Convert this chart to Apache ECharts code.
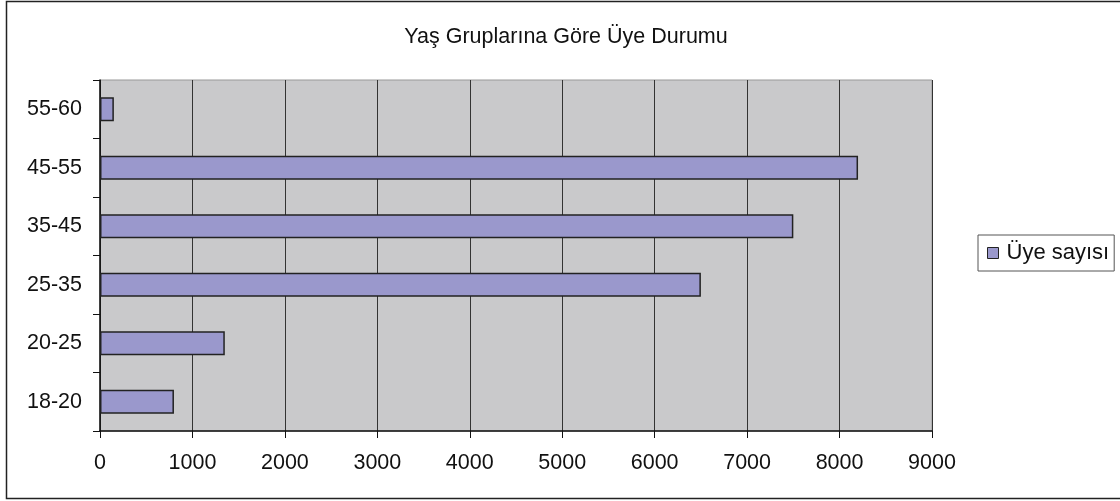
<!DOCTYPE html>
<html><head><meta charset="utf-8">
<script src="https://cdn.jsdelivr.net/npm/echarts@6/dist/echarts.min.js"></script>
<style>html,body{margin:0;padding:0;background:#fff}#c{width:1120px;height:501px}</style>
</head><body><div id="c"></div>
<script>
var titleText = 'Yaş Gruplarına Göre Üye Durumu';
var seriesName = 'Üye sayısı';
var categories = ['18-20', '20-25', '25-35', '35-45', '45-55', '55-60'];
var values = [800, 1350, 6500, 7500, 8200, 150];
var xMin = 0, xMax = 9000, xStep = 1000;

var chart = echarts.init(document.getElementById('c'), null, {renderer: 'canvas'});
var font = '"Liberation Sans", Arial, sans-serif';
chart.setOption({
  animation: false,
  backgroundColor: '#fff',
  textStyle: {fontFamily: font},
  title: {
    text: titleText, left: 561, top: 21, textAlign: 'center',
    textStyle: {fontFamily: font, fontSize: 21.5, fontWeight: 'normal', color: '#111'}
  },
  graphic: [{
    type: 'rect', shape: {x: 6.5, y: 1.5, width: 1120, height: 497},
    style: {fill: 'none', stroke: '#222', lineWidth: 1.5}, silent: true, z: 100
  }],
  legend: {
    data: [seriesName], left: 978, top: 235, orient: 'vertical',
    icon: 'rect', itemWidth: 11, itemHeight: 11, itemGap: 0,
    padding: [7, 5, 7, 9],
    borderColor: '#555', borderWidth: 1,
    itemStyle: {borderColor: '#222', borderWidth: 1},
    textStyle: {fontFamily: font, fontSize: 22, color: '#111', padding: [0, 0, 0, 3]}
  },
  grid: {
    left: 100, right: 188, top: 80, bottom: 70,
    show: true, backgroundColor: '#c9c9cb', borderColor: '#999', borderWidth: 1
  },
  xAxis: {
    type: 'value', min: xMin, max: xMax, interval: xStep,
    axisLine: {show: true, lineStyle: {color: '#111', width: 1.5}},
    axisTick: {show: true, length: 7, lineStyle: {color: '#111'}},
    axisLabel: {margin: 21, fontSize: 21.5, color: '#111', fontFamily: font,
      formatter: function (v) { return String(v); }},
    splitLine: {show: true, lineStyle: {color: '#333', width: 1}}
  },
  yAxis: {
    type: 'category', data: categories,
    axisLine: {show: true, lineStyle: {color: '#111', width: 1.5}},
    axisTick: {show: true, length: 7, lineStyle: {color: '#111'}},
    axisLabel: {margin: 18, fontSize: 21.5, color: '#111', fontFamily: font},
    splitLine: {show: false}
  },
  series: [{
    name: seriesName, type: 'bar', data: values,
    barWidth: '41%',
    itemStyle: {color: '#9a98cc', borderColor: '#222', borderWidth: 1.5}
  }]
});
</script></body></html>
